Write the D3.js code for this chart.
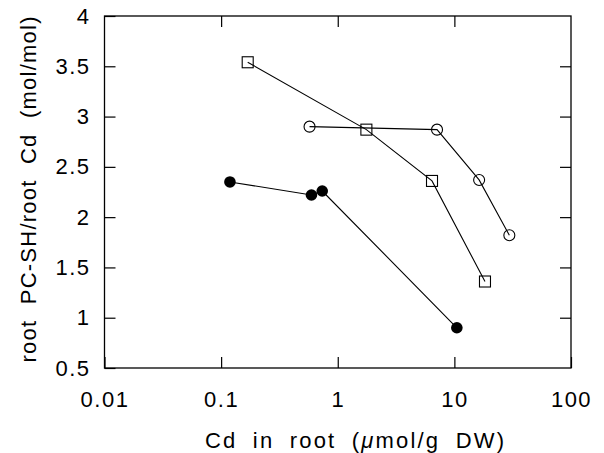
<!DOCTYPE html>
<html>
<head>
<meta charset="utf-8">
<script src="https://cdn.jsdelivr.net/npm/d3@7"></script>
<style>
  body { margin: 0; background: #fff; }
  svg text { font-family: "Liberation Sans", Arial, Helvetica, sans-serif; fill: #000; }
</style>
</head>
<body>
<div id="chart"></div>
<script>
// values
const closedX = [0.119, 0.595, 0.736, 10.5];
const closedY = [2.35, 2.22, 2.26, 0.90];
const squareX = [0.169, 1.76, 6.43, 18.3];
const squareY = [3.54, 2.87, 2.36, 1.36];
const openX = [0.573, 7.10, 16.3, 29.6];
const openY = [2.90, 2.87, 2.37, 1.82];

const xTicks = [0.01, 0.1, 1, 10, 100];
const xTickLabels = ['0.01', '0.1', '1', '10', '100'];
const yTicks = [0.5, 1, 1.5, 2, 2.5, 3, 3.5, 4];
const yTickLabels = ['0.5', '1', '1.5', '2', '2.5', '3', '3.5', '4'];

// x title in three parts so the mu can be italic
const xTitleParts = ['Cd in root (', '\u03BC', 'mol/g DW)'];
const yTitle = 'root PC-SH/root Cd (mol/mol)';

const width = 604, height = 453;
const margin = { top: 16, right: 33, bottom: 85, left: 104.5 };
const w = width - margin.left - margin.right;
const h = height - margin.top - margin.bottom;

const svg = d3.select('#chart')
  .append('svg')
  .attr('width', width)
  .attr('height', height);

const g = svg.append('g')
  .attr('transform', `translate(${margin.left},${margin.top})`);

const x = d3.scaleLog().domain([0.01, 100]).range([0, w]);
const y = d3.scaleLinear().domain([0.5, 4]).range([h, 0]);

// axes, ticks pointing inward
g.append('g')
  .attr('transform', `translate(0,${h})`)
  .call(d3.axisBottom(x).tickValues(xTicks)
    .tickFormat((d, i) => xTickLabels[i])
    .tickSizeInner(-11).tickSizeOuter(0).tickPadding(23));

g.append('g')
  .call(d3.axisTop(x).tickValues(xTicks.slice(1, -1))
    .tickFormat('').tickSizeInner(-11).tickSizeOuter(0));

g.append('g')
  .call(d3.axisLeft(y).tickValues(yTicks)
    .tickFormat((d, i) => yTickLabels[i])
    .tickSizeInner(-11).tickSizeOuter(0).tickPadding(14));

g.append('g')
  .attr('transform', `translate(${w},0)`)
  .call(d3.axisRight(y).tickValues(yTicks.slice(1, -1))
    .tickFormat('').tickSizeInner(-11).tickSizeOuter(0));

g.selectAll('.domain').remove();
g.selectAll('.tick line').attr('stroke', '#000').attr('stroke-width', 1.2);
g.selectAll('.tick text')
  .attr('font-size', 22)
  .attr('fill', '#000')
  .style('letter-spacing', '1.5px');

// frame
g.append('rect')
  .attr('x', 0).attr('y', 0)
  .attr('width', w).attr('height', h)
  .attr('fill', 'none')
  .attr('stroke', '#000')
  .attr('stroke-width', 1.3);

// series
const line = d3.line().x(d => x(d[0])).y(d => y(d[1]));
const closedPts = closedX.map((v, i) => [v, closedY[i]]);
const squarePts = squareX.map((v, i) => [v, squareY[i]]);
const openPts = openX.map((v, i) => [v, openY[i]]);

[closedPts, squarePts, openPts].forEach(pts => {
  g.append('path')
    .datum(pts)
    .attr('d', line)
    .attr('fill', 'none')
    .attr('stroke', '#000')
    .attr('stroke-width', 1.1);
});

g.selectAll('.closed')
  .data(closedPts)
  .enter().append('circle')
  .attr('class', 'closed')
  .attr('cx', d => x(d[0]))
  .attr('cy', d => y(d[1]))
  .attr('r', 5.8)
  .attr('fill', '#000');

g.selectAll('.open')
  .data(openPts)
  .enter().append('circle')
  .attr('class', 'open')
  .attr('cx', d => x(d[0]))
  .attr('cy', d => y(d[1]))
  .attr('r', 5.5)
  .attr('fill', 'none')
  .attr('stroke', '#000')
  .attr('stroke-width', 1.1);

g.selectAll('.square')
  .data(squarePts)
  .enter().append('rect')
  .attr('class', 'square')
  .attr('x', d => x(d[0]) - 5.5)
  .attr('y', d => y(d[1]) - 5.5)
  .attr('width', 11)
  .attr('height', 11)
  .attr('fill', 'none')
  .attr('stroke', '#000')
  .attr('stroke-width', 1.1);

// axis titles
const xt = svg.append('text')
  .attr('x', 355)
  .attr('y', 448)
  .attr('text-anchor', 'middle')
  .attr('font-size', 22)
  .attr('textLength', 300)
  .attr('lengthAdjust', 'spacing')
  .style('word-spacing', '7px')
  .style('letter-spacing', '1px');
xt.selectAll('tspan')
  .data(xTitleParts)
  .enter().append('tspan')
  .style('font-style', (d, i) => i === 1 ? 'italic' : 'normal')
  .text(d => d);

svg.append('text')
  .attr('transform', 'translate(36,189) rotate(-90)')
  .attr('text-anchor', 'middle')
  .attr('font-size', 22)
  .attr('textLength', 347)
  .attr('lengthAdjust', 'spacing')
  .style('word-spacing', '8px')
  .style('letter-spacing', '1px')
  .text(yTitle);
</script>
</body>
</html>
